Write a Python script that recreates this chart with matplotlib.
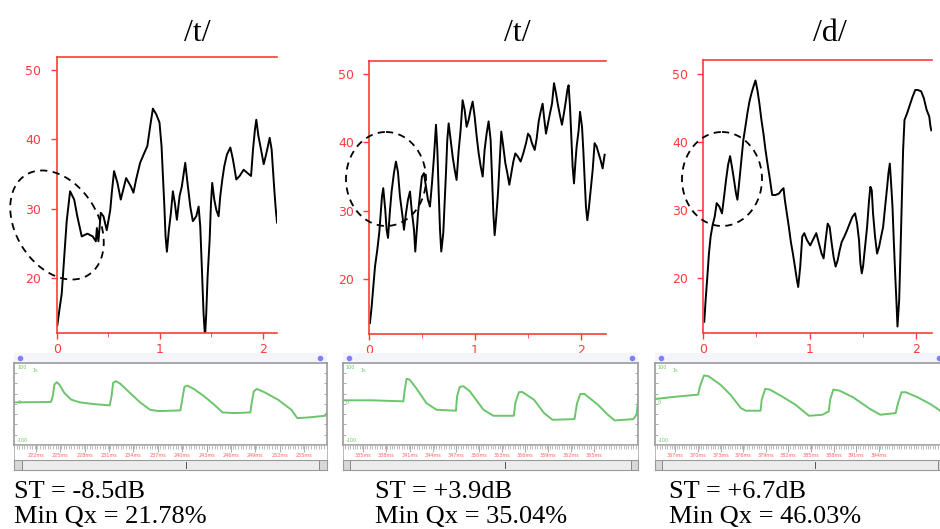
import matplotlib
matplotlib.use("Agg")
import matplotlib.pyplot as plt
import numpy as np
from matplotlib.patches import Ellipse, Rectangle

W, H = 940, 529

# ---- data ----
titles = ["/t/", "/t/", "/d/"]
st_labels = ["ST = -8.5dB", "ST = +3.9dB", "ST = +6.7dB"]
qx_labels = ["Min Qx = 21.78%", "Min Qx = 35.04%", "Min Qx = 46.03%"]

# top panels: time (s) vs level
t1 = [0.006, 0.026, 0.049, 0.071, 0.097, 0.13, 0.17, 0.2, 0.243, 0.298, 0.35, 0.38, 0.39, 0.405,
      0.428, 0.454, 0.486, 0.52, 0.535, 0.557, 0.59, 0.622, 0.674, 0.72, 0.745, 0.771, 0.81, 0.85,
      0.88, 0.908, 0.934, 0.966, 0.998, 1.018, 1.03, 1.044, 1.057, 1.07, 1.089, 1.109, 1.128, 1.147,
      1.167, 1.193, 1.215, 1.248, 1.27, 1.297, 1.322, 1.355, 1.378, 1.394, 1.41, 1.426, 1.44, 1.452,
      1.465, 1.485, 1.498, 1.51, 1.53, 1.55, 1.572, 1.588, 1.608, 1.627, 1.653, 1.686, 1.711, 1.744,
      1.776, 1.815, 1.854, 1.887, 1.906, 1.925, 1.938, 1.958, 1.984, 2.01, 2.03, 2.048, 2.068, 2.087,
      2.1, 2.113, 2.126, 2.139]
y1 = [13.2, 15.4, 17.8, 22.6, 28.2, 32.5, 31.3, 28.9, 26.0, 26.4, 26.0, 25.3, 27.2, 25.3,
      29.4, 28.9, 26.9, 29.8, 32.3, 35.4, 33.7, 31.3, 34.4, 33.2, 32.3, 34.2, 36.6, 38.0,
      39.0, 41.9, 44.4, 43.6, 42.4, 39.0, 35.1, 30.8, 26.0, 23.8, 26.9, 29.4, 32.5, 30.8,
      28.4, 31.8, 33.2, 36.6, 33.7, 30.3, 28.2, 28.9, 30.3, 27.4, 21.2, 14.9, 11.5, 14.9,
      20.2, 25.5, 30.8, 33.7, 31.3, 29.8, 28.9, 31.8, 34.2, 36.1, 37.8, 38.8, 37.1, 34.2,
      34.7, 35.6, 35.1, 34.7, 38.5, 41.4, 42.8, 40.5, 38.5, 36.4, 37.6, 38.8, 40.2, 38.5,
      35.6, 32.7, 30.1, 28.0]

t2 = [0.006, 0.022, 0.038, 0.054, 0.076, 0.095, 0.107, 0.12, 0.132, 0.151, 0.164, 0.177, 0.196,
      0.211, 0.233, 0.252, 0.271, 0.29, 0.315, 0.328, 0.347, 0.366, 0.385, 0.401, 0.423, 0.435,
      0.448, 0.461, 0.479, 0.498, 0.517, 0.536, 0.555, 0.574, 0.593, 0.612, 0.631, 0.644, 0.656,
      0.669, 0.681, 0.700, 0.713, 0.726, 0.738, 0.751, 0.770, 0.789, 0.808, 0.826, 0.845, 0.864,
      0.883, 0.902, 0.921, 0.940, 0.959, 0.978, 0.997, 1.016, 1.035, 1.054, 1.073, 1.091, 1.110,
      1.129, 1.148, 1.161, 1.174, 1.186, 1.199, 1.218, 1.230, 1.249, 1.268, 1.287, 1.306, 1.325,
      1.344, 1.363, 1.382, 1.407, 1.432, 1.457, 1.483, 1.502, 1.521, 1.539, 1.565, 1.584, 1.603,
      1.621, 1.640, 1.653, 1.672, 1.691, 1.710, 1.729, 1.748, 1.767, 1.785, 1.804, 1.823, 1.842,
      1.861, 1.874, 1.886, 1.899, 1.912, 1.924, 1.937, 1.950, 1.962, 1.981, 1.994, 2.013, 2.025,
      2.038, 2.050, 2.063, 2.076, 2.095, 2.114, 2.132, 2.151, 2.170, 2.189, 2.208, 2.227]
y2 = [13.5, 15.9, 18.9, 21.8, 24.3, 26.9, 29.4, 32.1, 33.3, 30.1, 27.2, 26.0, 30.1,
      32.8, 35.5, 37.2, 35.7, 32.1, 29.1, 27.2, 29.6, 31.6, 32.8, 30.1, 27.2, 24.0,
      26.7, 29.6, 32.3, 35.0, 35.5, 33.5, 31.6, 30.6, 34.0, 37.9, 42.6, 38.9, 33.0,
      27.2, 24.0, 26.7, 31.1, 35.7, 40.4, 42.8, 40.4, 37.9, 36.0, 34.5, 38.7, 41.8,
      46.2, 44.8, 42.3, 43.3, 44.8, 46.0, 43.8, 40.9, 38.4, 36.5, 35.0, 38.9, 41.3,
      43.1, 40.4, 35.0, 29.6, 26.4, 28.6, 32.6, 36.0, 41.6, 39.4, 37.0, 35.5, 33.8,
      35.5, 37.2, 38.4, 37.9, 37.2, 38.4, 39.9, 41.3, 40.9, 39.9, 38.9, 40.6, 43.1,
      44.5, 45.7, 43.8, 41.3, 42.8, 44.3, 45.7, 48.7, 47.2, 45.5, 44.0, 42.6, 44.3,
      46.2, 47.7, 48.4, 45.3, 40.9, 36.5, 34.0, 37.0, 39.4, 41.8, 44.5, 42.3, 38.9,
      34.5, 30.6, 28.6, 30.1, 33.0, 36.0, 39.9, 39.4, 38.4, 37.4, 36.2, 38.2]

t3 = [0.009, 0.022, 0.038, 0.053, 0.069, 0.088, 0.107, 0.126, 0.151, 0.176, 0.195, 0.214, 0.233,
      0.252, 0.270, 0.289, 0.308, 0.321, 0.340, 0.358, 0.377, 0.396, 0.415, 0.434, 0.453, 0.472,
      0.491, 0.509, 0.528, 0.547, 0.566, 0.585, 0.604, 0.623, 0.648, 0.679, 0.711, 0.736, 0.755,
      0.767, 0.786, 0.805, 0.824, 0.843, 0.862, 0.881, 0.893, 0.912, 0.931, 0.950, 0.975, 1.006,
      1.031, 1.063, 1.088, 1.113, 1.132, 1.151, 1.170, 1.189, 1.208, 1.226, 1.245, 1.264, 1.283,
      1.302, 1.327, 1.352, 1.377, 1.403, 1.428, 1.447, 1.465, 1.478, 1.491, 1.503, 1.522, 1.541,
      1.560, 1.572, 1.585, 1.597, 1.616, 1.635, 1.654, 1.673, 1.692, 1.711, 1.730, 1.742, 1.755,
      1.767, 1.780, 1.792, 1.805, 1.818, 1.827, 1.843, 1.855, 1.868, 1.880, 1.893, 1.918, 1.943,
      1.969, 1.994, 2.019, 2.050, 2.075, 2.101, 2.126, 2.138, 2.145]
y3 = [13.6, 16.8, 20.2, 23.6, 26.1, 27.8, 29.0, 31.0, 30.5, 29.5, 31.9, 34.4, 36.6,
      37.9, 36.3, 34.4, 32.4, 31.5, 34.4, 37.3, 40.3, 42.2, 44.2, 45.9, 47.1, 48.1,
      49.0, 47.6, 45.6, 43.2, 41.2, 38.8, 36.8, 34.9, 32.2, 32.2, 32.4, 32.9, 33.2,
      31.5, 29.5, 27.5, 25.3, 23.6, 21.7, 19.7, 18.7, 21.7, 26.1, 26.6, 25.6, 24.8,
      25.6, 26.6, 25.1, 23.6, 22.9, 25.6, 28.0, 27.5, 25.1, 23.1, 21.7, 22.6, 24.1,
      25.3, 26.1, 27.0, 28.0, 29.0, 29.5, 28.0, 25.6, 22.2, 20.7, 21.7, 24.6, 27.5,
      31.5, 33.4, 32.9, 29.5, 26.1, 23.6, 24.6, 26.1, 27.5, 30.5, 33.4, 35.4, 36.8,
      33.9, 30.5, 25.6, 20.7, 16.3, 12.9, 16.8, 23.6, 31.5, 38.8, 43.2, 44.2, 45.4,
      46.6, 47.6, 47.6, 47.4, 46.4, 44.7, 43.7, 42.2, 41.7]

# bottom panels: waveform (fraction of window vs amplitude)
w1_x = [0.003, 0.118, 0.124, 0.129, 0.137, 0.145, 0.161, 0.183, 0.21, 0.253, 0.306, 0.312, 0.317,
        0.326, 0.339, 0.371, 0.403, 0.435, 0.462, 0.532, 0.538, 0.545, 0.554, 0.575, 0.608, 0.640,
        0.667, 0.704, 0.756, 0.760, 0.767, 0.777, 0.801, 0.844, 0.887, 0.906, 0.941, 0.995, 1.0]
w1_y = [3.7, 4.5, 18.4, 46.9, 52.7, 46.9, 26.5, 10.2, 3.7, -0.4, -3.7, 18.4, 51,
        55.1, 49.4, 26.5, 3.7, -14.3, -17.6, -15.9, 10.2, 41.2, 44.5, 36.3, 18.4, -2,
        -20.8, -22.4, -20.8, 2, 30.6, 36.3, 28.2, 10.2, -14.3, -34.7, -33, -29, -22.4]

w2_x = [0.003, 0.1, 0.205, 0.21, 0.216, 0.226, 0.248, 0.283, 0.317, 0.383, 0.387, 0.396, 0.408,
        0.43, 0.476, 0.51, 0.579, 0.584, 0.596, 0.607, 0.647, 0.681, 0.71, 0.784, 0.793, 0.804,
        0.818, 0.863, 0.897, 0.92, 0.983, 0.994, 1.0]
w2_y = [8.6, 8.6, 6.1, 34.7, 60.8, 59.2, 38.8, 2.0, -14.3, -16.7, 18.4, 41.2, 42.9,
        30.6, -14.3, -29, -29, 2, 28.2, 29, 10.2, -22.4, -38.8, -37.1, 2, 24,
        24, -2, -26.5, -40.4, -37.1, -26.5, 10.2]

w3_x = [0.002, 0.061, 0.149, 0.155, 0.169, 0.184, 0.225, 0.26, 0.296, 0.313, 0.364, 0.368, 0.380,
        0.396, 0.437, 0.484, 0.531, 0.577, 0.599, 0.604, 0.615, 0.636, 0.683, 0.742, 0.777, 0.830,
        0.838, 0.850, 0.865, 0.906, 0.953, 0.982, 0.998]
w3_y = [11.8, 16.7, 22.4, 42.9, 69, 67.3, 46.9, 22.4, -10.2, -16.7, -16.7, 10.2, 36.3,
        34.7, 18.4, -2, -29, -26.5, -18.4, 10.2, 34.7, 32.2, 15.9, -12.7, -26.5, -22.4,
        2, 28.2, 28.2, 15.9, -2, -15.9, -30.6]

ruler1 = ["222ms", "225ms", "228ms", "231ms", "234ms", "237ms", "240ms", "243ms", "246ms", "249ms", "252ms", "255ms"]
ruler2 = ["335ms", "338ms", "341ms", "344ms", "347ms", "350ms", "353ms", "356ms", "359ms", "362ms", "365ms"]
ruler3 = ["367ms", "370ms", "373ms", "376ms", "379ms", "382ms", "385ms", "388ms", "391ms", "394ms"]

# ---- layout (pixels) ----
top_boxes = [(56.7, 56.5, 277, 333), (369.3, 60.7, 605.7, 334), (703.3, 60, 931.7, 332.7)]
top_xlims = [(0, 2.139), (0, 2.237), (0, 2.149)]
top_ylims = [(12.1, 51.9), (11.9, 52.0), (12.0, 52.0)]
bot_boxes = [(14, 362.7, 326.7, 445), (342.7, 362.7, 638.3, 445), (655, 362.7, 945, 445)]
text_x = [14, 375, 669]
title_x = [197, 517, 830]

RED = "#ff3b3b"
GREEN = "#6cc46c"


def px_axes(fig, x0, y0, x1, y1, **kw):
    return fig.add_axes([x0 / W, 1 - y1 / H, (x1 - x0) / W, (y1 - y0) / H], **kw)


fig = plt.figure(figsize=(W / 100, H / 100), dpi=100)
fig.patch.set_facecolor("white")

series = [(t1, y1), (t2, y2), (t3, y3)]
for i, (t, y) in enumerate(series):
    ax = px_axes(fig, *top_boxes[i])
    ax.plot(t, y, color="black", lw=1.4, clip_on=True)
    ax.set_xlim(*top_xlims[i])
    ax.set_ylim(*top_ylims[i])
    for s in ("left", "top", "bottom"):
        ax.spines[s].set_color(RED)
        ax.spines[s].set_linewidth(1.2)
    ax.spines["right"].set_visible(False)
    ax.set_yticks([20, 30, 40, 50])
    ax.set_xticks([0, 1, 2])
    ax.set_xticks([0.5, 1.5], minor=True)
    ax.tick_params(axis="both", colors=RED, labelcolor=RED, labelsize=9, length=4, width=1)
    ax.tick_params(axis="x", which="minor", colors=RED, length=3)
    ax.tick_params(axis="y", pad=7)
    for lab in ax.get_xticklabels() + ax.get_yticklabels():
        lab.set_fontfamily("DejaVu Sans")

waves = [(w1_x, w1_y, ruler1), (w2_x, w2_y, ruler2), (w3_x, w3_y, ruler3)]
for i, (wx, wy, rl) in enumerate(waves):
    x0, y0, x1, y1b = bot_boxes[i]
    # blue top strip
    strip = px_axes(fig, x0, 353, x1, y0)
    strip.set_xlim(0, 1)
    strip.set_ylim(0, 1)
    strip.axis("off")
    strip.add_patch(Rectangle((0, 0), 1, 1, color="#f4f4fb", lw=0))
    strip.plot([0.02, 0.98], [0.5, 0.5], ls="none", marker="o", ms=3, color="#8080ff")
    # plot window
    ax = px_axes(fig, x0, y0, x1, y1b)
    ax.plot(wx, wy, color=GREEN, lw=1.4)
    ax.set_xlim(0, 1)
    ax.set_ylim(-100, 100)
    for s in ax.spines.values():
        s.set_color("#9a9a9a")
        s.set_linewidth(1.2)
    ax.set_xticks([])
    ax.set_yticks([-75, -50, -25, 0, 25, 50, 75])
    ax.tick_params(axis="y", length=2, width=0.6, colors="#a0a0a0", labelleft=False, direction="in",
                   right=True)
    ax.text(0.01, 0.97, "100", color=GREEN, fontsize=3.5, va="top", transform=ax.transAxes)
    ax.text(0.06, 0.93, "1s", color=GREEN, fontsize=3.5, va="top", transform=ax.transAxes)
    ax.text(0.01, 0.03, "-100", color=GREEN, fontsize=3.5, va="bottom", transform=ax.transAxes)
    ax.text(0.01, 0.52, "0", color=GREEN, fontsize=3.5, va="center", transform=ax.transAxes)
    # ruler
    ru = px_axes(fig, x0, y1b, x1, 460)
    ru.set_xlim(0, 1)
    ru.set_ylim(0, 1)
    for s in ru.spines.values():
        s.set_color("#b0b0b0")
        s.set_linewidth(0.6)
    ru.set_yticks([])
    ru.set_xticks(np.linspace(0, 1, 121), minor=True)
    ru.xaxis.set_ticks_position("top")
    ru.tick_params(axis="x", which="minor", direction="in", length=3, width=0.5, colors="#a0a0a0")
    pos = np.linspace(0.07, 0.07 + 0.078 * (len(rl) - 1), len(rl))
    ru.set_xticks(pos)
    ru.set_xticklabels([])
    ru.tick_params(axis="x", which="major", direction="in", length=5, width=0.6, colors="#a0a0a0")
    for p, lab in zip(pos, rl):
        ru.text(p, 0.3, lab, color="#ff6060", fontsize=3.5, ha="center", va="center")
    # scrollbar
    sb = px_axes(fig, x0, 460, x1, 470)
    sb.set_xlim(0, 1)
    sb.set_ylim(0, 1)
    sb.set_xticks([])
    sb.set_yticks([])
    sb.set_facecolor("#ececec")
    for s in sb.spines.values():
        s.set_color("#9a9a9a")
        s.set_linewidth(0.8)
    sb.add_patch(Rectangle((0, 0), 0.025, 1, facecolor="#d8d8d8", edgecolor="#7a7a7a", lw=0.6))
    sb.add_patch(Rectangle((0.975, 0), 0.025, 1, facecolor="#d8d8d8", edgecolor="#7a7a7a", lw=0.6))
    sb.plot([0.55, 0.55], [0.2, 0.85], color="#555555", lw=0.7)

# overlay for titles, ellipses and notes
ov = fig.add_axes([0, 0, 1, 1], zorder=20)
ov.set_xlim(0, W)
ov.set_ylim(H, 0)
ov.axis("off")
ov.patch.set_alpha(0)

for i in range(3):
    ov.text(title_x[i], 41, titles[i], fontsize=23, family="Liberation Serif", ha="center", va="baseline")
    ov.text(text_x[i], 498, st_labels[i], fontsize=19, family="Liberation Serif", va="baseline")
    ov.text(text_x[i], 523, qx_labels[i], fontsize=19, family="Liberation Serif", va="baseline")

ellipses = [((57, 225), 118, 82, 58), ((386, 179), 80, 94, 0), ((722, 179), 80, 94, 0)]
for (c, w, h, ang) in ellipses:
    ov.add_patch(Ellipse(c, w, h, angle=ang, fill=False, ls=(0, (4, 3)), lw=1.3, color="black"))

fig.savefig("out.png", dpi=100)
